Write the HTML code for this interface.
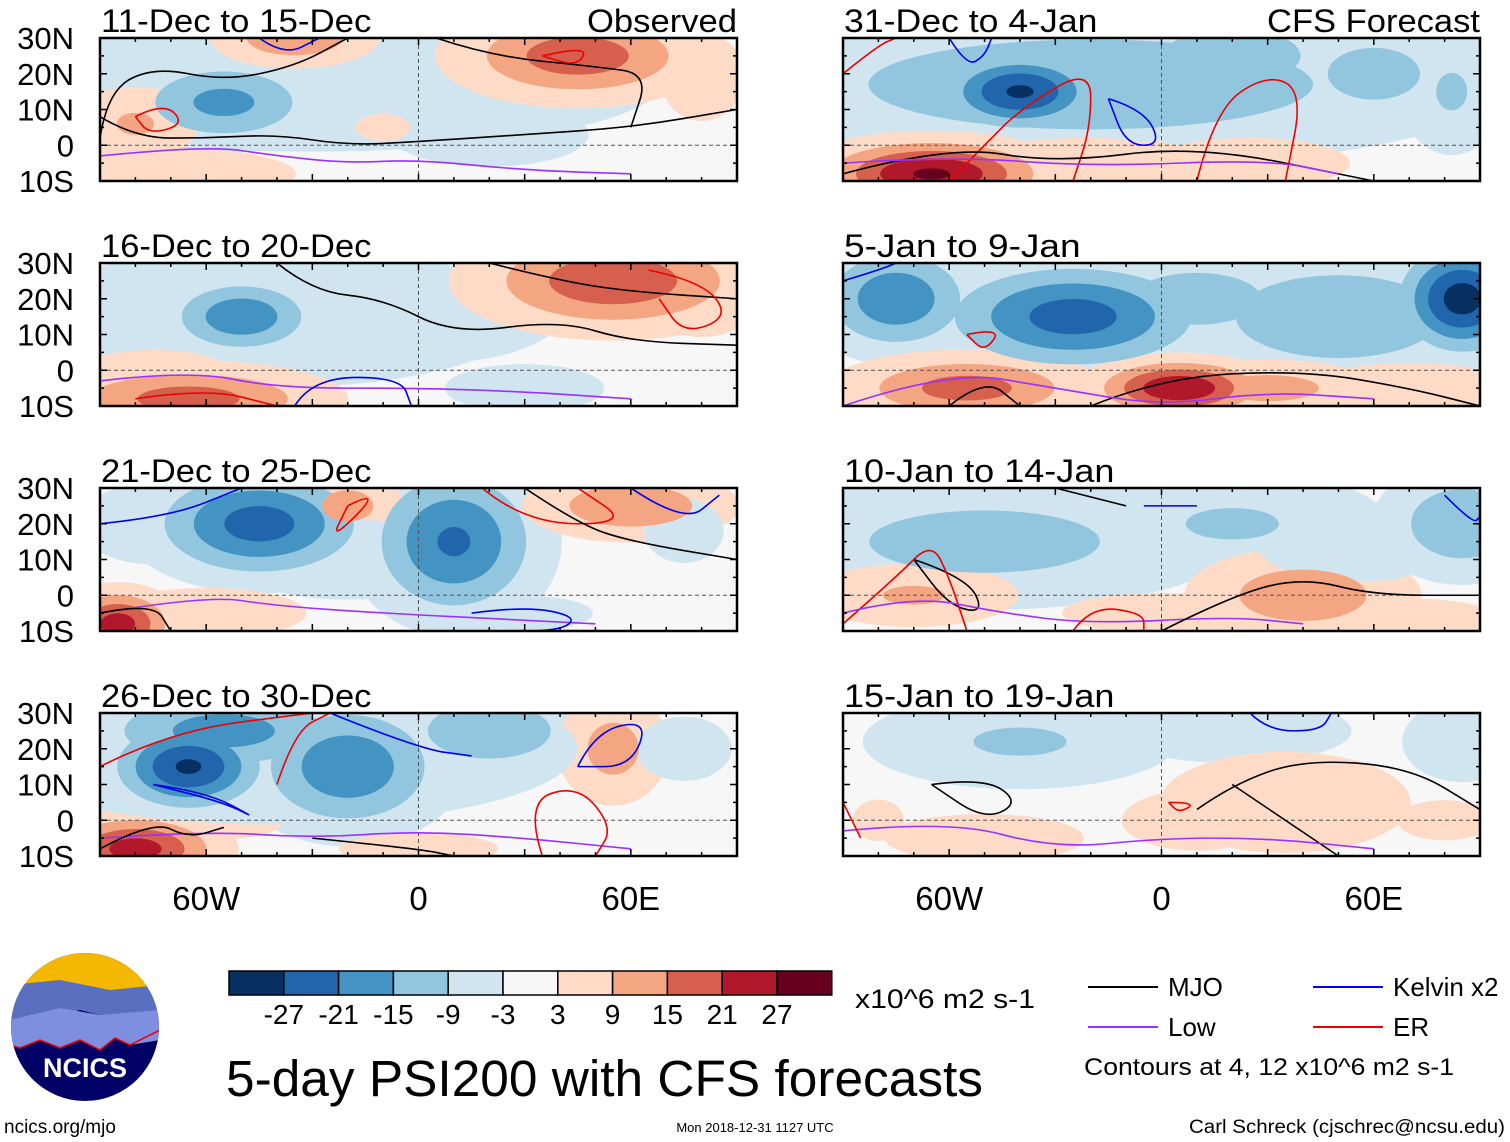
<!DOCTYPE html>
<html><head><meta charset="utf-8"><style>
html,body{margin:0;padding:0;background:#fff;}
svg{display:block;font-family:"Liberation Sans",sans-serif;}
</style></head><body>
<svg id="fig" width="1510" height="1142" viewBox="0 0 1510 1142" xmlns="http://www.w3.org/2000/svg">
<defs id="defs"></defs>
<g id="panels"></g>
<g id="legend"></g>
</svg>
<script>
// ---- data ----
const panelTitles = ["11-Dec to 15-Dec","16-Dec to 20-Dec","21-Dec to 25-Dec","26-Dec to 30-Dec","31-Dec to 4-Jan","5-Jan to 9-Jan","10-Jan to 14-Jan","15-Jan to 19-Jan"];
const levels = [3,9,15,21,27];
const levelLabels = ["-27","-21","-15","-9","-3","3","9","15","21","27"];
const blueColors = ["#d1e5f0","#92c5de","#4393c3","#2166ac","#053061"];
const redColors = ["#fddbc7","#f4a582","#d6604d","#b2182b","#67001f"];
const latTicks = ["30N","20N","10N","0","10S"];
const lonTicks = ["60W","0","60E"];
// blobs: [lon, lat, halfWidthDeg, halfHeightDeg, amplitude]
const blobs0 = [[-30,18,70,14,-9],[-55,12,18,8,-17],[45,25,22,8,19],[-35,30,14,5,15],[-80,6,12,7,10],[-70,-8,25,5,9],[20,3,25,8,-6],[80,18,10,10,6],[-10,5,8,4,5],[70,25,15,6,8]];
const blobs1 = [[-40,15,50,14,-9],[-50,15,14,7,-20],[0,15,30,10,-8],[55,25,25,9,20],[-65,-8,25,6,18],[-75,0,15,4,9],[30,-5,20,6,-6],[-85,20,10,8,-6],[80,20,12,8,8]];
const blobs2 = [[-45,20,20,10,-24],[10,15,16,14,-22],[-75,20,15,8,-9],[-85,-8,10,6,24],[-20,25,10,6,12],[60,25,18,6,15],[75,18,10,8,-6],[-60,-5,20,5,9],[-20,10,30,10,-6],[30,-5,20,5,-5]];
const blobs3 = [[-65,15,14,8,-28],[-20,15,18,12,-20],[-55,25,25,8,-18],[20,25,18,8,-15],[-80,-8,15,6,24],[55,20,10,10,12],[-60,0,20,5,6],[0,-8,20,4,6],[-40,20,60,15,-9],[75,20,12,8,-6]];
const blobs4 = [[-40,15,15,7,-28],[-20,17,70,14,-14],[20,25,20,8,-15],[60,20,18,10,-12],[82,15,10,12,-10],[-65,-8,20,6,28],[-20,-5,25,5,9],[25,-5,20,5,9],[0,10,30,8,-6]];
const blobs5 = [[-75,20,15,10,-20],[-25,15,25,10,-24],[85,20,12,10,-30],[50,15,30,12,-15],[10,20,25,10,-12],[-55,-5,22,6,18],[5,-5,15,5,27],[30,-5,20,5,12],[70,-5,20,5,9]];
const blobs6 = [[-50,15,45,12,-12],[85,20,15,10,-15],[20,20,30,10,-10],[40,0,20,8,14],[-70,0,20,6,10],[70,-8,20,5,9],[0,-5,25,5,6],[55,15,20,8,-9]];
const blobs7 = [[-40,22,30,9,-10],[85,22,12,8,-9],[20,25,30,8,-6],[35,5,25,10,9],[-50,-5,25,6,6],[80,0,12,5,6],[10,0,15,6,9],[-80,0,10,8,4]];
const allBlobs = [blobs0,blobs1,blobs2,blobs3,blobs4,blobs5,blobs6,blobs7];
// contours: [kind, [[lon,lat],...]]
const lines0 = [["mjo",[[-90,8],[-80,2],[-60,2],[-40,3],[-20,0],[0,1],[30,3],[60,5],[90,10]]],["mjo",[[-90,2],[-88,15],[-75,22],[-55,18],[-35,22],[-20,30]]],["low",[[-90,-3],[-60,0],[-40,-3],[-20,-5],[0,-4],[30,-7],[60,-8]]],["er",[[-80,8],[-72,12],[-66,6],[-76,3],[-80,8]]],["er",[[35,25],[48,28],[45,22],[35,25]]],["kelvin",[[-45,30],[-38,25],[-28,30]]],["mjo",[[5,30],[20,25],[50,22],[65,20],[60,5]]]];
const lines1 = [["mjo",[[-40,30],[-30,22],[-10,20],[10,10],[40,14],[60,8],[90,7]]],["mjo",[[20,30],[40,25],[60,22],[90,20]]],["low",[[-90,-3],[-65,0],[-40,-5],[0,-5],[30,-6],[60,-8]]],["kelvin",[[-35,-10],[-30,-2],[-5,-2],[-2,-10]]],["er",[[65,28],[80,25],[88,15],[75,10],[68,20]]],["er",[[-80,-8],[-60,-5],[-40,-10]]]];
const lines2 = [["low",[[-90,-5],[-60,0],[-40,-3],[-10,-5],[30,-7],[50,-8]]],["kelvin",[[-90,20],[-70,22],[-50,30]]],["kelvin",[[15,-5],[30,-3],[45,-6],[40,-10],[20,-10]]],["er",[[-20,25],[-10,30],[-25,15],[-20,25]]],["er",[[18,30],[30,20],[60,20],[45,30]]],["mjo",[[30,30],[45,20],[60,15],[90,10]]],["mjo",[[-90,-5],[-75,-2],[-70,-10]]],["kelvin",[[60,30],[75,20],[85,28]]]];
const lines3 = [["er",[[-90,15],[-70,25],[-30,30]]],["kelvin",[[-75,10],[-60,8],[-45,0],[-55,5],[-75,10]]],["low",[[-90,-5],[-60,-3],[-30,-5],[0,-3],[30,-5],[60,-8]]],["er",[[35,-10],[30,5],[45,10],[55,-2],[50,-10]]],["kelvin",[[45,15],[50,25],[65,28],[60,15],[45,15]]],["mjo",[[-90,-8],[-75,0],[-65,-5],[-55,-2]]],["mjo",[[-30,-5],[0,-8],[10,-10]]],["er",[[-40,10],[-35,25],[-25,30]]],["kelvin",[[-25,30],[0,20],[15,18]]]];
const lines4 = [["er",[[-90,20],[-80,28],[-75,30]]],["kelvin",[[-60,30],[-55,22],[-50,25],[-48,30]]],["er",[[-60,-10],[-50,0],[-40,10],[-20,22],[-20,5],[-25,-10]]],["kelvin",[[-15,13],[-5,10],[0,0],[-10,0],[-15,13]]],["er",[[10,-10],[15,10],[30,20],[40,15],[35,-10]]],["mjo",[[-90,-8],[-60,0],[-30,-5],[10,0],[60,-10]]],["low",[[-90,-5],[-60,-3],[-20,-6],[30,-4],[50,-8]]]];
const lines5 = [["er",[[-55,10],[-45,12],[-50,5],[-55,10]]],["mjo",[[-60,-10],[-50,-2],[-40,-10]]],["mjo",[[-20,-10],[0,-2],[40,0],[70,-5],[90,-10]]],["low",[[-90,-10],[-60,0],[-30,-5],[0,-10],[30,-6],[60,-8]]],["kelvin",[[-90,25],[-80,28],[-75,30]]]];
const lines6 = [["mjo",[[-30,30],[-10,25]]],["mjo",[[-70,10],[-55,5],[-50,-5],[-60,-3],[-70,10]]],["er",[[-90,-8],[-75,5],[-65,15],[-60,5],[-55,-10]]],["low",[[-90,-5],[-70,0],[-45,-5],[-20,-8],[20,-6],[40,-8]]],["er",[[-25,-10],[-20,-3],[-5,-5],[-5,-10]]],["mjo",[[0,-10],[20,0],[40,5],[60,0],[90,0]]],["kelvin",[[-5,25],[10,25]]],["kelvin",[[80,28],[88,20],[90,22]]]];
const lines7 = [["mjo",[[-65,10],[-50,12],[-40,5],[-50,0],[-65,10]]],["mjo",[[10,3],[20,10],[40,17],[70,15],[90,3]]],["mjo",[[20,10],[35,0],[50,-10]]],["er",[[2,5],[10,5],[5,2],[2,5]]],["low",[[-90,-3],[-60,0],[-30,-8],[0,-5],[30,-5],[60,-8]]],["kelvin",[[25,30],[30,25],[45,25],[48,30]]],["er",[[-90,5],[-85,-5]]]];
const allLines = [lines0,lines1,lines2,lines3,lines4,lines5,lines6,lines7];

// ---- layout ----
const NS="http://www.w3.org/2000/svg";
const colX=[100,843], W=637, rowY=[38,263,488,713], H=143;
const spread=1.35;
function mk(tag,attrs,parent){const e=document.createElementNS(NS,tag);for(const k in attrs)e.setAttribute(k,attrs[k]);parent.appendChild(e);return e;}
const defs=document.getElementById('defs');
const gp=document.getElementById('panels');
const lineColor={mjo:"#000",low:"#9b30ff",kelvin:"#0000ee",er:"#ee0000"};

allBlobs.forEach((blobs,i)=>{
  const x0=colX[Math.floor(i/4)], y0=rowY[i%4];
  const xs=lon=>x0+(lon+90)*W/180;
  const ys=lat=>y0+(30-lat)*H/40;
  const kx=W/180, ky=H/40;
  const cp=mk('clipPath',{id:'cp'+i},defs); mk('rect',{x:x0,y:y0,width:W,height:H},cp);
  const g=mk('g',{'clip-path':'url(#cp'+i+')'},gp);
  
  
  mk('rect',{x:x0,y:y0,width:W,height:H,fill:"#f7f7f7"},g);
  levels.forEach((t,li)=>{
    blobs.forEach(b=>{
      const A=Math.abs(b[4]); if(A<=t) return;
      const s=Math.sqrt(Math.log(A/t))*spread;
      const e=mk('ellipse',{cx:xs(b[0]),cy:ys(b[1]),rx:b[2]*kx*s,ry:b[3]*ky*s,fill:(b[4]<0?blueColors:redColors)[li]},g);
      
      
    });
  });
  mk('line',{x1:x0,x2:x0+W,y1:ys(0),y2:ys(0),stroke:"#555","stroke-dasharray":"4,3","stroke-width":1},g);
  mk('line',{x1:xs(0),x2:xs(0),y1:y0,y2:y0+H,stroke:"#555","stroke-dasharray":"4,3","stroke-width":1},g);
  allLines[i].forEach(l=>{
    const p=l[1].map(q=>[xs(q[0]),ys(q[1])]);
    let d='M'+p[0][0]+','+p[0][1];
    for(let k=1;k<p.length-1;k++){const mx=(p[k][0]+p[k+1][0])/2,my=(p[k][1]+p[k+1][1])/2;d+=' Q'+p[k][0]+','+p[k][1]+' '+mx+','+my;}
    d+=' L'+p[p.length-1][0]+','+p[p.length-1][1];
    const e=mk('path',{d:d,fill:'none',stroke:lineColor[l[0]],'stroke-width':1.6},g);
    
    
  });
  const fr=mk('rect',{x:x0,y:y0,width:W,height:H,fill:'none',stroke:'#000','stroke-width':2.5},gp);
  
  
  for(let lon=-90;lon<=90;lon+=10){const L=(lon%30===0)?7:4;mk('line',{x1:xs(lon),x2:xs(lon),y1:y0,y2:y0+L,stroke:'#000','stroke-width':1.5},gp);mk('line',{x1:xs(lon),x2:xs(lon),y1:y0+H,y2:y0+H-L,stroke:'#000','stroke-width':1.5},gp);}
  for(let lat=-10;lat<=30;lat+=5){const L=(lat%10===0)?7:4;mk('line',{x1:x0,x2:x0+L,y1:ys(lat),y2:ys(lat),stroke:'#000','stroke-width':1.5},gp);mk('line',{x1:x0+W,x2:x0+W-L,y1:ys(lat),y2:ys(lat),stroke:'#000','stroke-width':1.5},gp);}
  const tw=panelTitles[i].length*16.9;
  const tt=mk('text',{x:x0+1,y:y0-6,'font-size':32,textLength:tw,lengthAdjust:'spacingAndGlyphs'},gp); tt.textContent=panelTitles[i];
  
  
  if(i===0||i===4){const r=mk('text',{x:x0+W,y:y0-6,'font-size':32,'text-anchor':'end',textLength:(i===0?150:213),lengthAdjust:'spacingAndGlyphs'},gp);r.textContent=(i===0?"Observed":"CFS Forecast");
    
    }
  if(i<4){latTicks.forEach((lb,k)=>{const t=mk('text',{x:74,y:ys(30-k*10)+11,'font-size':31,'text-anchor':'end'},gp);t.textContent=lb;
    
    });}
  if(i%4===3){lonTicks.forEach((lb,k)=>{const t=mk('text',{x:xs(-60+k*60),y:910,'font-size':33,'text-anchor':'middle'},gp);t.textContent=lb;
    
    });}
});

// ---- legend ----
const lg=document.getElementById('legend');
const cols=blueColors.slice().reverse().concat(["#f7f7f7"]).concat(redColors);
const bw=54.8;
cols.forEach((c,k)=>{const r=mk('rect',{x:229+k*bw,y:971,width:bw,height:24,fill:c,stroke:'#000','stroke-width':1.5},lg);
  
  });
levelLabels.forEach((lb,k)=>{const t=mk('text',{x:229+(k+1)*bw,y:1024,'font-size':28,'text-anchor':'middle'},lg);t.textContent=lb;
  
  });
function txt(s,attrs,name){const t=mk('text',attrs,lg);t.textContent=s;return t;}
txt("x10^6 m2 s-1",{x:855,y:1008,'font-size':27,textLength:180,lengthAdjust:'spacingAndGlyphs'},'units-label');
txt("5-day PSI200 with CFS forecasts",{x:226,y:1096,'font-size':51,textLength:757,lengthAdjust:'spacingAndGlyphs'},'figure-title');
[["MJO","#000",1088,987],["Low","#9b30ff",1088,1027],["Kelvin x2","#0000ee",1313,987],["ER","#ee0000",1313,1027]].forEach(e=>{
  mk('line',{x1:e[2],x2:e[2]+70,y1:e[3],y2:e[3],stroke:e[1],'stroke-width':2},lg);
  txt(e[0],{x:e[2]+80,y:e[3]+9,'font-size':26},'legend-entry');
});
txt("Contours at 4, 12 x10^6 m2 s-1",{x:1084,y:1075,'font-size':24,textLength:370,lengthAdjust:'spacingAndGlyphs'},'contour-note');
txt("ncics.org/mjo",{x:4,y:1133,'font-size':19},'footer-url');
txt("Mon 2018-12-31 1127 UTC",{x:755,y:1132,'font-size':13,'text-anchor':'middle'},'footer-date');
txt("Carl Schreck (cjschrec@ncsu.edu)",{x:1505,y:1133,'font-size':19,'text-anchor':'end',textLength:316,lengthAdjust:'spacingAndGlyphs'},'footer-author');
const lgo=mk('g',{},lg);


const lc=mk('clipPath',{id:'logoclip'},defs); mk('circle',{cx:85,cy:1027,r:74},lc);
const li=mk('g',{'clip-path':'url(#logoclip)'},lgo);
mk('rect',{x:0,y:950,width:170,height:160,fill:'#000066'},li);
mk('rect',{x:0,y:950,width:170,height:40,fill:'#f5b800'},li);
mk('path',{d:'M10,985 L60,980 L110,990 L160,985 L160,1015 L120,1020 L80,1010 L40,1020 L10,1020Z',fill:'#5a6fc0'},li);
mk('path',{d:'M10,1020 L60,1008 L100,1015 L160,1010 L160,1040 L130,1045 L115,1038 L100,1050 L80,1040 L60,1048 L40,1040 L20,1048 L10,1045Z',fill:'#7f8fe0'},li);
mk('path',{d:'M10,1045 L20,1048 L40,1040 L60,1048 L80,1040 L100,1050 L115,1038 L130,1045 L160,1030',fill:'none',stroke:'#e00','stroke-width':1.5},li);
txt("NCICS",{x:85,y:1077,'font-size':27,'font-weight':'bold','text-anchor':'middle',fill:'#fff'},'logo-text');
</script>
</body></html>
